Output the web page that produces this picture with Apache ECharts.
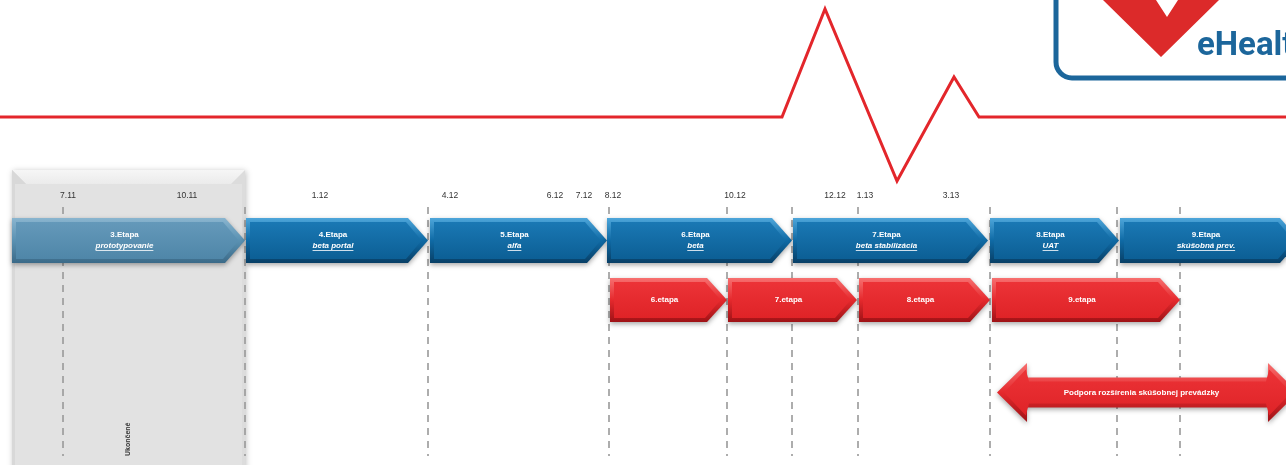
<!DOCTYPE html>
<html><head><meta charset="utf-8">
<script src="https://cdn.jsdelivr.net/npm/echarts@6/dist/echarts.min.js"></script>
<style>html,body{margin:0;padding:0;background:#fff}#c{width:1286px;height:465px}</style>
</head><body><div id="c"></div>
<script>
// ---- data (timeline units along a hidden axis) ----
const tickLabels = ['7.11','10.11','1.12','4.12','6.12','7.12','8.12','10.12','12.12','1.13','3.13'];
const tickAt     = [68, 187, 320, 450, 555, 584, 613, 735, 835, 865, 951];
const guideAt    = [63, 245, 428, 609, 727, 792, 858, 990, 1117, 1180];
const doneSpan   = [12, 245];
const doneLabel  = 'Ukončené';
const blueNames  = ['3.Etapa','4.Etapa','5.Etapa','6.Etapa','7.Etapa','8.Etapa','9.Etapa'];
const blueSubs   = ['prototypovanie','beta portal','alfa','beta','beta stabilizácia','UAT','skúšobná prev.'];
const blueStart  = [12, 246, 430, 607, 793, 990, 1120];
const blueEnd    = [245, 428, 607, 792, 988, 1119, 1300];
const redNames   = ['6.etapa','7.etapa','8.etapa','9.etapa'];
const redStart   = [610, 728, 859, 992];
const redEnd     = [727, 857, 990, 1180];
const supportLabel = 'Podpora rozšírenia skúšobnej prevádzky';
const supportSpan  = [997, 1298];
const pulseX = [0, 782, 825, 897, 954, 979, 1286];
const pulseY = [117, 117, 9, 181, 77, 117, 117];

// ---- helpers ----
const FONT = '"Liberation Sans", Arial, sans-serif';
const mctx = document.createElement('canvas').getContext('2d');
function textW(t, f){ mctx.font = f; return mctx.measureText(t).width; }
function grad(stops){ return new echarts.graphic.LinearGradient(0,0,0,1, stops.map((c,i)=>({offset:c[0],color:c[1]}))); }

const PAL = {
  blue:  {top:'#4ea6da', mid:'#0f6aa5', bot:'#083f66', inA:'#1a78b4', inB:'#0c5f95'},
  muted: {top:'#8ab5cf', mid:'#5a91b2', bot:'#3b6a88', inA:'#6499ba', inB:'#4f86a8'},
  red:   {top:'#f77070', mid:'#e5292d', bot:'#9e1216', inA:'#ec3337', inB:'#df2327'}
};

function arrowGroup(api, x0, x1, yT, yB, pal, texts){
  const p0 = api.coord([x0, yT]), p1 = api.coord([x1, yB]);
  const L = p0[0], R = p1[0], T = p0[1], B = p1[1], M = (T+B)/2;
  const t = api.size([20, 0])[0], b = 4;
  const outer = [[L,T],[R-t,T],[R,M],[R-t,B],[L,B]];
  const inner = [[L+b,T+b],[R-t-b*0.5,T+b],[R-b*1.6,M],[R-t-b*0.5,B-b],[L+b,B-b]];
  const ch = [
    {type:'polygon', shape:{points:outer}, style:{fill:grad([[0,pal.top],[0.5,pal.mid],[1,pal.bot]]), shadowBlur:5, shadowOffsetY:2, shadowColor:'rgba(0,0,0,0.35)'}},
    {type:'polygon', shape:{points:inner}, style:{fill:grad([[0,pal.inA],[1,pal.inB]])}}
  ];
  const cx = (L + R)/2 - 4;
  texts.forEach(tx => {
    const f = 'bold ' + (tx.italic ? 'italic ' : '') + '8px ' + FONT;
    const y = M + tx.dy;
    ch.push({type:'text', style:{text:tx.text, x:cx, y:y, fill:'#fff', font:f, align:'center', verticalAlign:'middle'}});
    if (tx.underline){
      const w = textW(tx.text, f);
      ch.push({type:'line', shape:{x1:cx-w/2, y1:y+5, x2:cx+w/2, y2:y+5}, style:{stroke:'#fff', lineWidth:0.8}});
    }
  });
  return {type:'group', children:ch};
}

const chart = echarts.init(document.getElementById('c'), null, {renderer:'canvas'});
chart.setOption({
  animation:false,
  grid:{left:0, right:0, top:0, bottom:0},
  xAxis:{type:'value', min:0, max:1286, show:false},
  yAxis:{type:'value', min:0, max:465, inverse:true, show:false},
  graphic:[
    {type:'rect', z:50, shape:{x:1056, y:-30, width:280, height:108, r:16}, style:{fill:'#fff', stroke:'#1c669b', lineWidth:5}},
    {type:'polygon', z:51, shape:{points:[[1103,0],[1161,57],[1219,0],[1178,0],[1167,17],[1156,0]]}, style:{fill:'#dc2a2a'}},
    {type:'text', z:51, style:{text:'eHealth', x:1197, y:47, fill:'#1c669b', font:'bold 33px Roboto, sans-serif', verticalAlign:'middle'}}
  ],
  series:[
    { // completed-phase panel
      type:'custom', z:1, data:[doneSpan],
      renderItem:(params, api)=>{
        const a = api.coord([api.value(0), 170]), c = api.coord([api.value(1), 470]);
        const L=a[0], R=c[0], T=a[1], B=c[1], bv=14;
        const lbl = api.coord([128, 456]);
        return {type:'group', children:[
          {type:'rect', shape:{x:L, y:T, width:R-L, height:B-T}, style:{fill:'#dcdcdc', shadowBlur:6, shadowColor:'rgba(0,0,0,0.25)', shadowOffsetX:1, shadowOffsetY:1}},
          {type:'polygon', shape:{points:[[L,T],[R,T],[R-bv,T+bv],[L+bv,T+bv]]}, style:{fill:grad([[0,'#f6f6f6'],[1,'#ebebeb']])}},
          {type:'polygon', shape:{points:[[L,T],[L+bv,T+bv],[L+bv,B],[L,B]]}, style:{fill:'#d8d8d8'}},
          {type:'rect', shape:{x:L+bv, y:T+bv, width:R-L-2*bv, height:B-T-bv}, style:{fill:'#e2e2e2'}},
          {type:'rect', shape:{x:L+3, y:T+bv, width:R-L-6, height:B-T-bv}, style:{fill:'#e2e2e2'}},
          {type:'text', x:lbl[0], y:lbl[1], rotation:Math.PI/2, style:{text:doneLabel, x:0, y:0, fill:'#333', font:'bold 7px '+FONT, align:'left', verticalAlign:'middle'}}
        ]};
      }
    },
    { // dashed guide lines
      type:'custom', z:2, data:guideAt.map(x=>[x]),
      renderItem:(params, api)=>{
        const a = api.coord([api.value(0), 207]), b = api.coord([api.value(0), 456]);
        return {type:'line', shape:{x1:a[0], y1:a[1], x2:b[0], y2:b[1]}, style:{stroke:'#999', lineWidth:1.6, lineDash:[7,6]}};
      }
    },
    { // tick labels
      type:'custom', z:3, data:tickAt.map((x,i)=>[x,i]),
      renderItem:(params, api)=>{
        const p = api.coord([api.value(0), 196]);
        return {type:'text', style:{text:tickLabels[api.value(1)], x:p[0], y:p[1], fill:'#333', font:'8.5px '+FONT, align:'center', verticalAlign:'middle'}};
      }
    },
    { // blue stages
      type:'custom', z:4, data:blueStart.map((s,i)=>[s, blueEnd[i], i]),
      renderItem:(params, api)=>{
        const i = api.value(2);
        return arrowGroup(api, api.value(0), api.value(1), 218, 263, i===0 ? PAL.muted : PAL.blue,
          [{text:blueNames[i], dy:-5.5}, {text:blueSubs[i], dy:5, italic:true, underline:true}]);
      }
    },
    { // red stages
      type:'custom', z:4, data:redStart.map((s,i)=>[s, redEnd[i], i]),
      renderItem:(params, api)=>{
        const i = api.value(2);
        return arrowGroup(api, api.value(0), api.value(1), 278, 322, PAL.red, [{text:redNames[i], dy:0}]);
      }
    },
    { // double-headed support arrow
      type:'custom', z:4, data:[supportSpan],
      renderItem:(params, api)=>{
        const a = api.coord([api.value(0), 363]), c = api.coord([api.value(1), 422]);
        const L=a[0], R=c[0], HT=a[1], HB=c[1], M=(HT+HB)/2, BT=M-15, BB=M+15, h=api.size([30,0])[0];
        const outer = [[L,M],[L+h,HT],[L+h,BT],[R-h,BT],[R-h,HT],[R,M],[R-h,HB],[R-h,BB],[L+h,BB],[L+h,HB]];
        const b=4;
        const inner = [[L+b*1.8,M],[L+h-b*0.3,HT+b*1.6],[L+h+b*0.5,BT+b],[R-h-b*0.5,BT+b],[R-h+b*0.3,HT+b*1.6],[R-b*1.8,M],[R-h+b*0.3,HB-b*1.6],[R-h-b*0.5,BB-b],[L+h+b*0.5,BB-b],[L+h-b*0.3,HB-b*1.6]];
        return {type:'group', children:[
          {type:'polygon', shape:{points:outer}, style:{fill:grad([[0,PAL.red.top],[0.5,PAL.red.mid],[1,PAL.red.bot]]), shadowBlur:5, shadowOffsetY:2, shadowColor:'rgba(0,0,0,0.35)'}},
          {type:'polygon', shape:{points:inner}, style:{fill:grad([[0,PAL.red.inA],[1,PAL.red.inB]])}},
          {type:'text', style:{text:supportLabel, x:(L+R)/2 - 6, y:M, fill:'#fff', font:'bold 8px '+FONT, align:'center', verticalAlign:'middle'}}
        ]};
      }
    },
    { // heartbeat line
      type:'line', z:5, data:pulseX.map((x,i)=>[x, pulseY[i]]), showSymbol:false, silent:true,
      lineStyle:{color:'#e3262b', width:3, join:'miter'}
    }
  ]
});
</script></body></html>
